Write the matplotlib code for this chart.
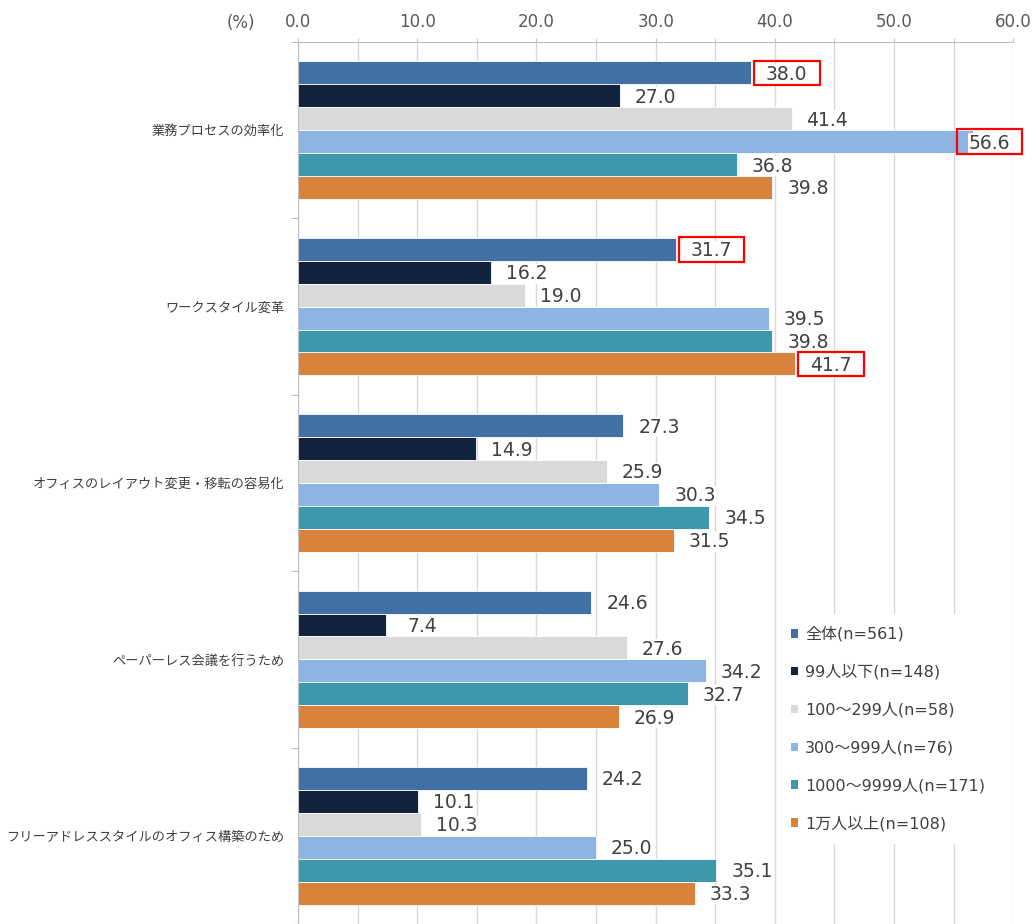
import numpy as np
import matplotlib.pyplot as plt
from matplotlib.patches import Patch, Rectangle
from matplotlib.ticker import MultipleLocator

plt.rcParams['font.family'] = ['DejaVu Sans', 'Noto Sans CJK JP']

categories = ['業務プロセスの効率化', 'ワークスタイル変革',
              'オフィスのレイアウト変更・移転の容易化',
              'ペーパーレス会議を行うため',
              'フリーアドレススタイルのオフィス構築のため']
series = ['全体(n=561)', '99人以下(n=148)', '100〜299人(n=58)',
          '300〜999人(n=76)', '1000〜9999人(n=171)', '1万人以上(n=108)']
values = [
    [38.0, 31.7, 27.3, 24.6, 24.2],
    [27.0, 16.2, 14.9, 7.4, 10.1],
    [41.4, 19.0, 25.9, 27.6, 10.3],
    [56.6, 39.5, 30.3, 34.2, 25.0],
    [36.8, 39.8, 34.5, 32.7, 35.1],
    [39.8, 41.7, 31.5, 26.9, 33.3],
]
colors = ['#426FA5', '#13233F', '#D9D9D9', '#8EB4E3', '#3D98AC', '#D9823B']
# (series, category) pairs whose labels are boxed in red
highlight = [(0, 0), (3, 0), (0, 1), (5, 1)]

fig = plt.figure(figsize=(10.35, 9.24), dpi=100)
ax = fig.add_axes([0.288, 0.0, 0.691, 0.9545])

n = len(series)
h = 0.78 / n
y0 = np.arange(len(categories))
for j in range(n):
    ys = y0 - 0.39 + h * (j + 0.5)
    ax.barh(ys, values[j], height=h, color=colors[j], edgecolor='white',
            linewidth=0.6, zorder=2)
    for i, v in enumerate(values[j]):
        cx = min(v + 3.0, 58.0)
        ax.text(cx, ys[i] + 0.008, '%.1f' % v, ha='center', va='center',
                fontsize=13.5, color='#404040', zorder=3,
                bbox=dict(facecolor='white', edgecolor='none', pad=0.3))
        if (j, i) in highlight:
            ax.add_patch(Rectangle((cx - 2.75, ys[i] - 0.07), 5.5, 0.14,
                                   fill=False, edgecolor='#FF0000', lw=1.6,
                                   zorder=4, clip_on=False))

ax.set_xlim(0, 60)
ax.set_ylim(4.483, -0.5)
ax.xaxis.tick_top()
ax.xaxis.set_minor_locator(MultipleLocator(5))
ax.set_xticks(np.arange(0, 61, 10))
ax.set_xticklabels(['%.1f' % t for t in np.arange(0, 61, 10)],
                   fontsize=12, color='#595959')
ax.tick_params(axis='x', which='both', length=3, color='#BFBFBF', pad=5)
ax.grid(axis='x', which='both', color='#D9D9D9', lw=1, zorder=0)
ax.set_axisbelow(True)

ax.set_yticks(np.arange(-0.5, 5, 1), minor=False)
ax.set_yticklabels([])
ax.set_yticks(y0, minor=True)
ax.set_yticklabels(categories, minor=True, fontsize=9.5, color='#404040',
                   family='Noto Sans CJK JP')
ax.tick_params(axis='y', which='major', length=5, color='#BFBFBF')
ax.tick_params(axis='y', which='minor', length=0, pad=10)

for s in ['right', 'bottom']:
    ax.spines[s].set_visible(False)
for s in ['top', 'left']:
    ax.spines[s].set_color('#BFBFBF')

fig.text(0.219, 0.975, '(%)', fontsize=12, color='#595959', va='center')

handles = [Patch(facecolor=c, edgecolor='none') for c in colors]
leg = ax.legend(handles, series, loc='upper left',
                bbox_to_anchor=(0.744, 0.3445), bbox_transform=fig.transFigure,
                frameon=True, fancybox=False, edgecolor='none',
                facecolor='white', framealpha=1, fontsize=11.5,
                handlelength=0.45, handleheight=0.45, handletextpad=0.45,
                labelspacing=1.4, borderpad=0.8)
for t in leg.get_texts():
    t.set_color('#404040')

fig.savefig('out.png', dpi=100)
